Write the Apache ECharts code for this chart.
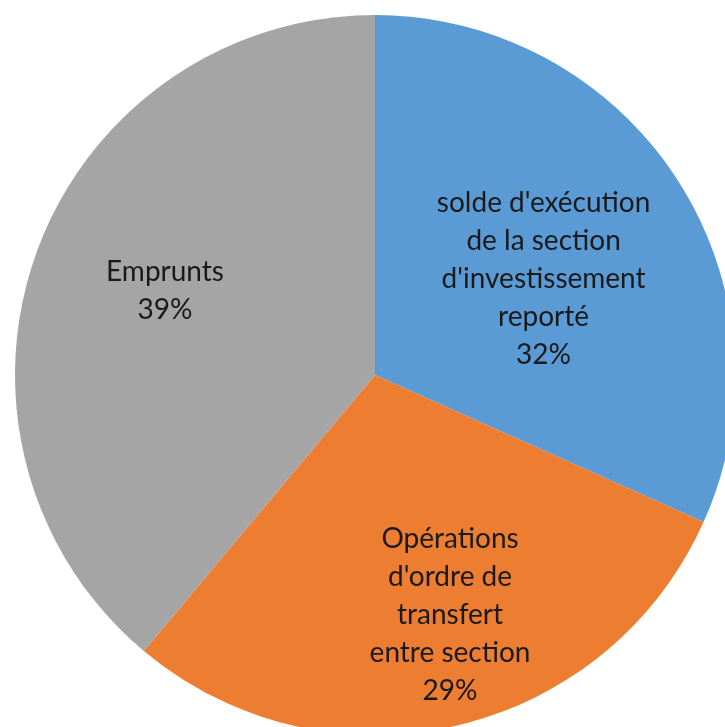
<!DOCTYPE html>
<html>
<head>
<meta charset="utf-8">
<script src="https://cdn.jsdelivr.net/npm/echarts@6/dist/echarts.min.js"></script>
<style>
  html, body { margin: 0; padding: 0; background: #fff; }
  #chart { width: 725px; height: 727px; }
</style>
</head>
<body>
<div id="chart"></div>
<script>
// parts (in %)
const categories = [
  "solde d'exécution\nde la section\nd'investissement\nreporté",
  "Opérations\nd'ordre de\ntransfert\nentre section",
  "Emprunts"
];
const shares = [31.7, 29.4, 38.9];
const colors = ['#5B9BD5', '#ED7D31', '#A5A5A5'];

// shift labels off the default inside spot, like Excel's best fit
const labelShift = [[15, 3], [34, 62], [-38, -22]];

const myChart = echarts.init(document.getElementById('chart'));

const option = {
  animation: false,
  series: [
    {
      type: 'pie',
      center: [375, 375],
      radius: 360,
      startAngle: 90,
      clockwise: true,
      percentPrecision: 0,
      label: {
        show: true,
        position: 'inside',
        formatter: '{b}\n{d}%',
        color: '#1a1a1a',
        fontFamily: 'Lato',
        fontSize: 28,
        lineHeight: 38,
        align: 'center'
      },
      labelLine: { show: false },
      labelLayout: function (params) {
        const s = labelShift[params.dataIndex];
        return { dx: s[0], dy: s[1] };
      },
      itemStyle: { borderWidth: 0 },
      emphasis: { disabled: true },
      data: categories.map((name, i) => ({
        name: name,
        value: shares[i],
        itemStyle: { color: colors[i] }
      }))
    }
  ]
};
myChart.setOption(option);
</script>
</body>
</html>
